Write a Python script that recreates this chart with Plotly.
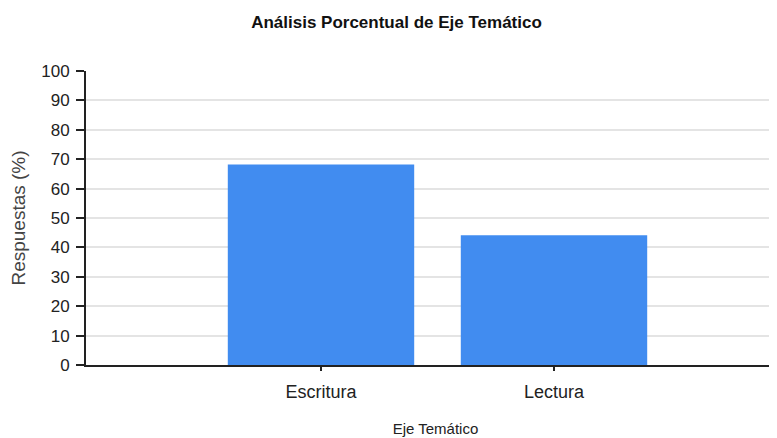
import plotly.graph_objects as go

categories = ["Escritura", "Lectura"]
values = [68.2, 44.1]
y_ticks = [0, 10, 20, 30, 40, 50, 60, 70, 80, 90, 100]

positions = [i + 1 for i in range(len(categories))]

fig = go.Figure()
fig.add_trace(go.Bar(
    x=positions, y=values, width=0.8,
    marker=dict(color="#418CF0", line=dict(width=0)),
))

font = "Liberation Sans, Arial, sans-serif"

fig.update_layout(
    width=777, height=438,
    margin=dict(l=78, r=0, t=63, b=81),
    paper_bgcolor="white", plot_bgcolor="white",
    showlegend=False,
    title=dict(text="<b>Análisis Porcentual de Eje Temático</b>",
               x=0.5, xanchor="center", y=0.968, yanchor="middle",
               yref="container", xref="container",
               font=dict(family=font, size=17, color="#111111")),
)
fig.update_xaxes(
    range=[-0.0086, 2.9914], tickvals=positions, ticktext=categories,
    showline=True, linecolor="#222222", linewidth=2,
    ticks="outside", ticklen=4, tickwidth=1.5, tickcolor="#222222",
    showgrid=False, zeroline=False, automargin=False,
    ticklabelstandoff=5,
    tickfont=dict(family=font, size=18, color="#222222"),
    title=dict(text="Eje Temático", standoff=23,
               font=dict(family=font, size=15, color="#222222")),
)
fig.update_yaxes(
    range=[0, 100], tickvals=y_ticks,
    showline=True, linecolor="#222222", linewidth=2,
    ticks="outside", ticklen=8, tickwidth=1.5, tickcolor="#222222",
    showgrid=True, gridcolor="#e4e4e4", gridwidth=2,
    zeroline=False, automargin=False,
    ticklabelstandoff=3,
    tickfont=dict(family=font, size=17, color="#222222"),
    title=dict(text="Respuestas (%)", standoff=25,
               font=dict(family=font, size=19, color="#444444")),
)

fig.write_html("out.html")
